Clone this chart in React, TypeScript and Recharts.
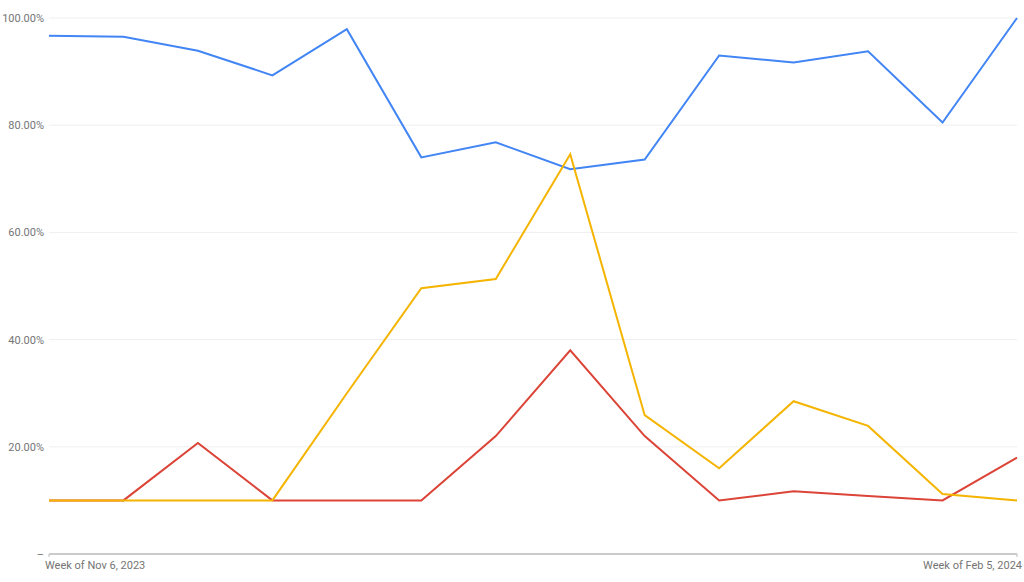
import React from "react";
import { LineChart, Line, XAxis, YAxis, CartesianGrid } from "recharts";

const weeks = [
  "Week of Nov 6, 2023",
  "Week of Nov 13, 2023",
  "Week of Nov 20, 2023",
  "Week of Nov 27, 2023",
  "Week of Dec 4, 2023",
  "Week of Dec 11, 2023",
  "Week of Dec 18, 2023",
  "Week of Dec 25, 2023",
  "Week of Jan 1, 2024",
  "Week of Jan 8, 2024",
  "Week of Jan 15, 2024",
  "Week of Jan 22, 2024",
  "Week of Jan 29, 2024",
  "Week of Feb 5, 2024",
];
const blueSeries = [96.7, 96.5, 93.9, 89.3, 97.9, 74.0, 76.8, 71.8, 73.6, 93.0, 91.7, 93.8, 80.5, 100];
const yellowSeries = [10, 10, 10, 10, 30, 49.6, 51.3, 74.6, 25.9, 16.0, 28.5, 23.9, 11.2, 10];
const redSeries = [10, 10, 20.7, 10, 10, 10, 22, 38, 22, 10, 11.7, 10.8, 10, 18];
const yTicks = [0, 20, 40, 60, 80, 100];
const xTicks = [weeks[0], weeks[weeks.length - 1]];

const data = weeks.map((w, i) => ({
  week: w,
  blue: blueSeries[i],
  yellow: yellowSeries[i],
  red: redSeries[i],
}));

const XTick = (props: any) => {
  const { x, y, payload } = props;
  const first = payload.value === weeks[0];
  return (
    <text
      x={first ? x - 4 : x + 5}
      y={y + 10}
      textAnchor={first ? "start" : "end"}
      fill="#757575"
      fontSize={11}
      fontFamily="Roboto, Arial, sans-serif"
    >
      {payload.value}
    </text>
  );
};

const YTick = (props: any) => {
  const { y, payload } = props;
  const label = payload.value === 0 ? "–" : `${payload.value.toFixed(2)}%`;
  return (
    <text
      x={44}
      y={y + 4}
      textAnchor="end"
      fill="#757575"
      fontSize={11}
      fontFamily="Roboto, Arial, sans-serif"
    >
      {label}
    </text>
  );
};

export default function App() {
  return (
    <div style={{ position: "fixed", left: 0, top: 0, width: 1024, height: 582, background: "#fff" }}>
      <LineChart width={1024} height={582} data={data} margin={{ top: 18, right: 7, bottom: 0, left: 0 }}>
        <CartesianGrid vertical={false} stroke="#efefef" strokeWidth={1} />
        <XAxis
          dataKey="week"
          ticks={xTicks}
          interval={0}
          tick={<XTick />}
          axisLine={{ stroke: "#bdbdbd", strokeWidth: 1.5 }}
          tickLine={{ stroke: "#bdbdbd" }}
          tickSize={3}
          height={28}
        />
        <YAxis
          domain={[0, 100]}
          ticks={yTicks}
          tick={<YTick />}
          axisLine={false}
          tickLine={false}
          width={49}
          tickMargin={5}
        />
        <Line type="linear" dataKey="blue" stroke="#4285F4" strokeWidth={2} dot={false} isAnimationActive={false} />
        <Line type="linear" dataKey="red" stroke="#DB4437" strokeWidth={2} dot={false} isAnimationActive={false} />
        <Line type="linear" dataKey="yellow" stroke="#F4B400" strokeWidth={2} dot={false} isAnimationActive={false} />
      </LineChart>
    </div>
  );
}
